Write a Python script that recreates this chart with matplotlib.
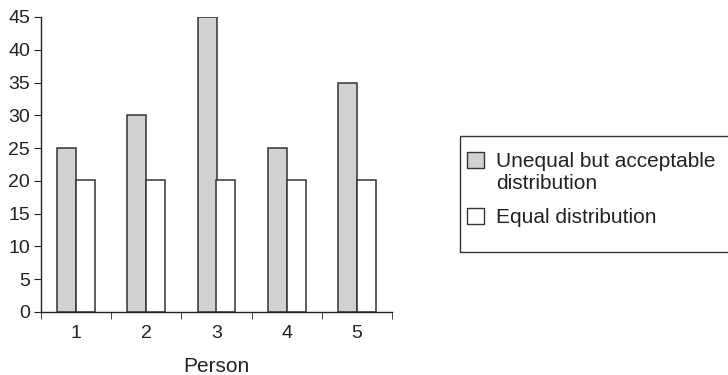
import numpy as np
import matplotlib
matplotlib.use("Agg")
from matplotlib import pyplot as plt
from matplotlib.patches import Rectangle, Patch
from matplotlib.legend_handler import HandlerPatch

persons = ["1", "2", "3", "4", "5"]
unequal = [25, 30, 45, 25, 35]
equal = [20.2, 20.2, 20.2, 20.2, 20.2]
yticks = [0, 5, 10, 15, 20, 25, 30, 35, 40, 45]
series_names = ["Unequal but acceptable\ndistribution", "Equal distribution"]

plt.rcParams["font.family"] = ["Liberation Sans", "DejaVu Sans"]
plt.rcParams["font.size"] = 14

fig = plt.figure(figsize=(7.28, 3.75), dpi=100)
ax = fig.add_axes([41 / 728, 1 - 312 / 375, (392 - 41) / 728, (312 - 17) / 375])

x = np.arange(len(persons))
w = 0.27
edge = "#333333"
ax.bar(x - w / 2, unequal, w, color="#d2d2d2", edgecolor=edge, linewidth=1.1)
ax.bar(x + w / 2, equal, w, color="white", edgecolor=edge, linewidth=1.1)

ax.set_xlim(-0.5, len(persons) - 0.5)
ax.set_ylim(0, 45)
ax.set_yticks(yticks)
ax.set_xticks(x)
ax.set_xticklabels(persons)
ax.set_xticks(np.arange(len(persons) + 1) - 0.5, minor=True)
ax.tick_params(axis="x", which="major", length=0, pad=9, colors="#222222")
ax.tick_params(axis="x", which="minor", length=5, direction="out", color="#222222")
ax.tick_params(axis="y", length=5, direction="out", pad=3, colors="#222222")
ax.set_xlabel("Person", labelpad=11, color="#222222", fontsize=15)
for s in ["top", "right"]:
    ax.spines[s].set_visible(False)
for s in ["left", "bottom"]:
    ax.spines[s].set_color("#222222")
    ax.spines[s].set_linewidth(1.0)

# legend box (runs off the right edge like the original)
fig.patches.append(Rectangle((460 / 728, 1 - 252 / 375), 300 / 728, (252 - 136) / 375,
                             transform=fig.transFigure, fill=False,
                             edgecolor="#333333", linewidth=1.0, clip_on=False))


def top_patch(legend, orig_handle, xdescent, ydescent, width, height, fontsize):
    # put the swatch next to the first line of a two-line label
    return Rectangle((-xdescent, -ydescent + 0.6 * fontsize), width, height)


handles = [Patch(facecolor="#d2d2d2", edgecolor=edge, linewidth=1.0),
           Patch(facecolor="white", edgecolor=edge, linewidth=1.0)]
fig.legend(handles, series_names, loc="upper left",
           bbox_to_anchor=(463 / 728, 1 - 148 / 375), frameon=False,
           handler_map={handles[0]: HandlerPatch(patch_func=top_patch)},
           borderaxespad=0, handlelength=0.8, handleheight=0.8, handletextpad=0.6,
           labelspacing=0.7, borderpad=0.2, fontsize=15, labelcolor="#222222")

fig.savefig("out.png", dpi=100)
